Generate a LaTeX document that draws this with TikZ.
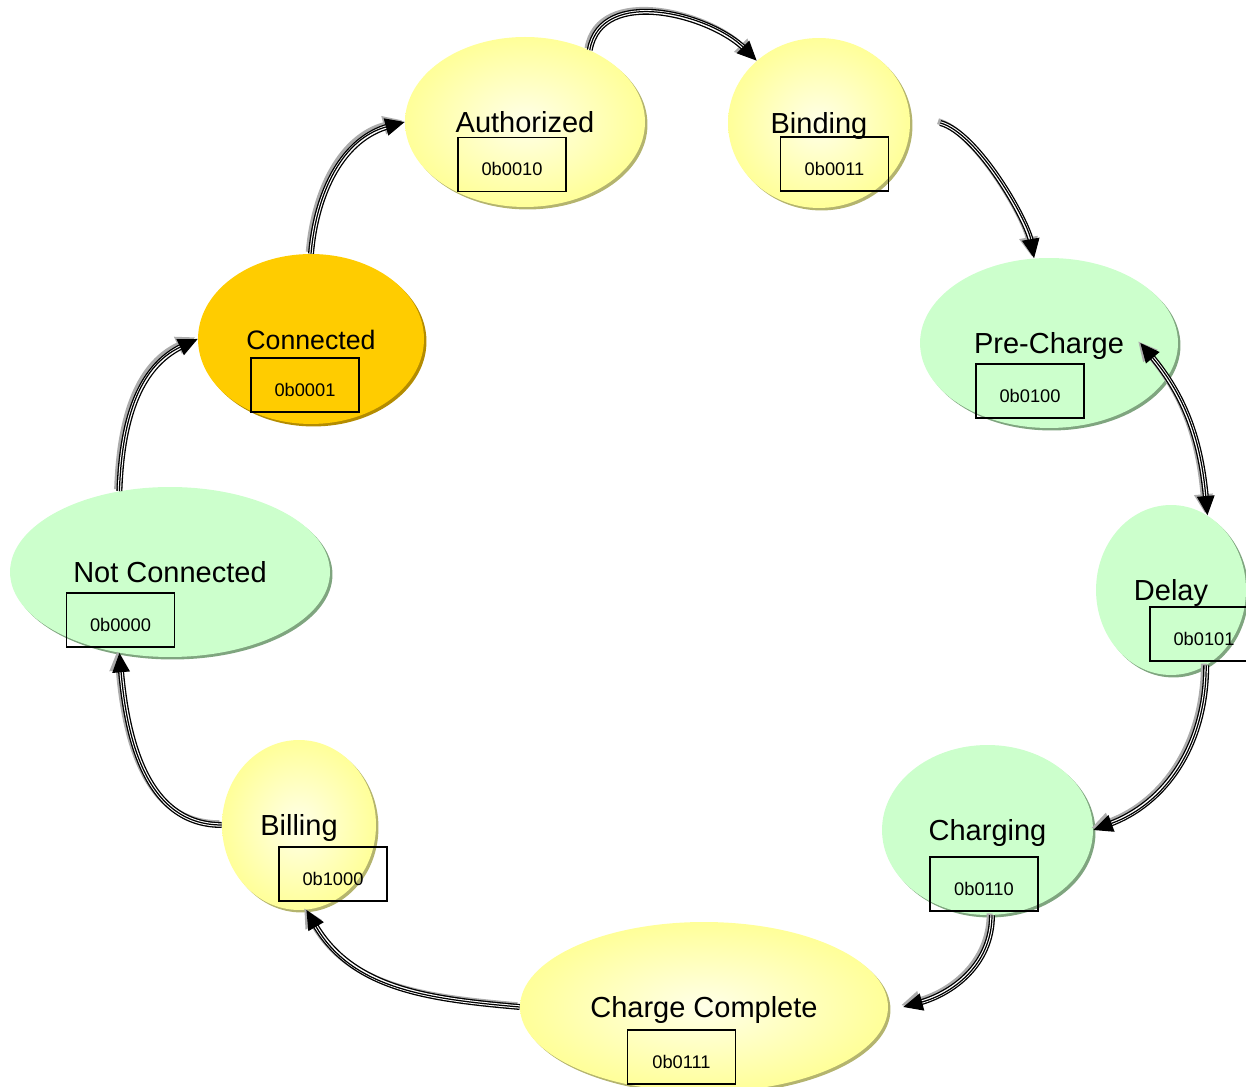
\documentclass[tikz,border=0pt]{standalone}
\usepackage{fontspec}
\setmainfont{Liberation Sans}
\usetikzlibrary{shapes.geometric,arrows.meta,shadows}
\definecolor{stYellow}{HTML}{FFFF99}
\definecolor{stYellowC}{HTML}{FFFFE8}
\definecolor{stYellowS}{HTML}{B4B46E}
\definecolor{stGreen}{HTML}{CCFFCC}
\definecolor{stGreenS}{HTML}{7FA57F}
\definecolor{stOrange}{HTML}{FFCC00}
\definecolor{stOrangeS}{HTML}{B48C00}
\tikzset{
  >={Triangle[length=11pt,width=10pt]},
  state/.style={ellipse,minimum height=3.4cm,inner sep=0pt,
    font=\fontsize{16.5}{19}\selectfont,text height=0.415cm,text depth=0pt},
  yel/.style={state,inner color=stYellowC,outer color=stYellow,
    drop shadow={shadow xshift=0.05cm,shadow yshift=-0.05cm,fill=stYellowS,opacity=1}},
  grn/.style={state,fill=stGreen,
    drop shadow={shadow xshift=0.05cm,shadow yshift=-0.05cm,fill=stGreenS,opacity=1}},
  org/.style={state,fill=stOrange,
    drop shadow={shadow xshift=0.05cm,shadow yshift=-0.05cm,fill=stOrangeS,opacity=1}},
  code/.style={draw=black,line width=0.8pt,minimum width=2.16cm,minimum height=1.08cm,
    font=\fontsize{10.4}{12}\selectfont,text height=0.46cm,text depth=0pt},
  trans shade/.style={draw=gray!65,line width=3.4pt,->,
    transform canvas={shift={(-1.3pt,1pt)}}},
  trans under/.style={draw=black,line width=0.75pt,double=white,double distance=1.9pt,shorten >=9pt},
  trans core/.style={draw=black,line width=0.7pt,->},
}
\begin{document}
\begin{tikzpicture}[x=0.02cm,y=0.02cm]
\clip (0,0) rectangle (1246,1087);

%States
\node[yel,minimum width=4.8cm]  (auth)  at (525,965)   {Authorized};
\node[yel,minimum width=3.64cm] (bind)  at (819,964)   {Binding};
\node[grn,minimum width=5.16cm] (prech) at (1049,744)  {Pre-Charge};
\node[grn,minimum width=3cm]    (delay) at (1171,497)  {Delay};
\node[grn,minimum width=4.22cm] (chgng) at (987.5,257) {Charging};
\node[yel,minimum width=7.36cm] (cmplt) at (704,80)    {Charge Complete};
\node[yel,minimum width=3.08cm] (bill)  at (299,262)   {Billing};
\node[grn,minimum width=6.4cm]  (notc)  at (170,515)   {Not Connected};
\node[org,minimum width=4.52cm,font=\fontsize{15.2}{18}\selectfont] (conn) at (311,748) {Connected};

%State codes
\foreach \n/\x/\y/\c in {auth/512/922.5/0b0010,bind/834.5/923/0b0011,
    prech/1030/696/0b0100,delay/1204/453/0b0101,chgng/984/203/0b0110,
    cmplt/681.5/30/0b0111,bill/333/213/0b1000,notc/120.5/467/0b0000,
    conn/305/702/0b0001}{
  \node[code] (\n-code) at (\x,\y) {\c};
}

%Free ends
\coordinate (bind-out) at ([xshift=0.6cm]bind.east);
\coordinate (prech-in) at ([xshift=-0.76cm]prech.east);
\coordinate (cmplt-in) at ([xshift=0.3cm]cmplt.east);

%Transitions
\foreach \a/\b/\o/\i/\l in {notc.122/conn.west/88/205/1,conn.north/auth.west/85/195/1,
    auth.48/bind.135/80/135/1,bind-out/prech.100/-15/100/0.6,
    delay.-65/chgng.east/-90/20/1,chgng.-87/cmplt-in/-90/15/1,
    cmplt.west/bill.-85/175/-60/1,bill.west/notc.238/180/-85/1}{
  \draw[trans shade] (\a) to[out=\o,in=\i,looseness=\l] (\b);
  \draw[trans under] (\a) to[out=\o,in=\i,looseness=\l] (\b);
  \draw[trans core] (\a) to[out=\o,in=\i,looseness=\l] (\b);
}
\draw[trans shade,<->] (prech-in) to[out=-50,in=95] (delay.64);
\draw[trans under,shorten <=9pt] (prech-in) to[out=-50,in=95] (delay.64);
\draw[trans core,<->] (prech-in) to[out=-50,in=95] (delay.64);
\end{tikzpicture}
\end{document}
